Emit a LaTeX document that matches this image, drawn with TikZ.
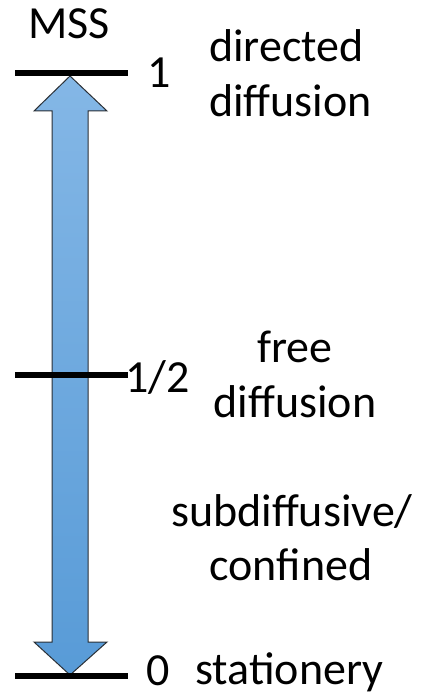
\documentclass[tikz,border=0pt]{standalone}
\usepackage{fontspec}
\setmainfont{Carlito}
\definecolor{arrtop}{HTML}{84B7E6}
\definecolor{arrbot}{HTML}{589BD7}
\definecolor{arredge}{HTML}{2A2F35}
\tikzset{
  lbl/.style={inner sep=0pt, font=\fontsize{46}{55}\selectfont},
  tick/.style={line width=6pt, black},
  blockarrow/.style={draw=arredge, line width=1pt, top color=arrtop, bottom color=arrbot, line join=miter}
}
\begin{document}
\begin{tikzpicture}[x=1pt,y=-1pt]
\useasboundingbox (0,0) rectangle (426,695);
% double block arrow
\coordinate (tipT) at (70,76);
\coordinate (tipB) at (70,675);
\path[blockarrow] (tipT) -- (107,111) -- (88,111) -- (88,642) -- (107,642) -- (tipB)
  -- (34,642) -- (52,642) -- (52,111) -- (34,111) -- cycle;
% ticks
\coordinate (t1a) at (15,73);  \coordinate (t1b) at (128,73);
\coordinate (t2a) at (15,375); \coordinate (t2b) at (128,375);
\coordinate (t3a) at (15,676); \coordinate (t3b) at (128,676);
\draw[tick] (t1a) -- (t1b);
\draw[tick] (t2a) -- (t2b);
\draw[tick] (t3a) -- (t3b);
% labels
\node[lbl, anchor=base] (mss) at (69,39) {MSS};
\node[lbl, anchor=base west] (one) at (147,88) {1};
\node[lbl, anchor=base west] (half) at (125,392) {1/2};
\node[lbl, anchor=base west] (zero) at (146,685) {0};
\node[lbl, anchor=base west] (dir1) at (209,62) {directed};
\node[lbl, anchor=base west] (dir2) at (209,117) {diffusion};
\node[lbl, anchor=base] (free1) at (295,362) {free};
\node[lbl, anchor=base] (free2) at (295,417) {diffusion};
\node[lbl, anchor=base] (sub1) at (292,526) {subdiffusive/};
\node[lbl, anchor=base] (sub2) at (291,580) {confined};
\node[lbl, anchor=base west] (stat) at (195,684) {stationery};
\end{tikzpicture}
\end{document}
